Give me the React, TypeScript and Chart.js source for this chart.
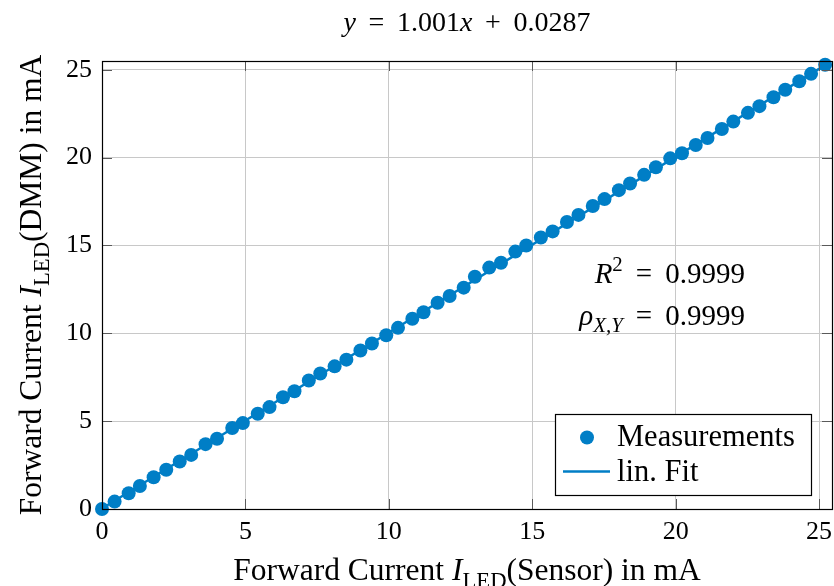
import React, { useEffect, useRef } from "react";
import { Chart, registerables } from "chart.js";

Chart.register(...registerables);

// Measured data: Forward current (Sensor) vs Forward current (DMM), mA
const sensorCurrent = [
  0.0, 0.44, 0.93, 1.32, 1.8, 2.24, 2.71, 3.11, 3.61, 4.01, 4.54, 4.91, 5.43, 5.84,
  6.31, 6.71, 7.21, 7.61, 8.11, 8.52, 9.01, 9.41, 9.91, 10.32, 10.82, 11.21, 11.7,
  12.12, 12.61, 13.0, 13.5, 13.91, 14.41, 14.79, 15.3, 15.71, 16.21, 16.61, 17.11,
  17.52, 18.02, 18.41, 18.9, 19.31, 19.81, 20.22, 20.7, 21.11, 21.61, 22.01, 22.52,
  22.92, 23.41, 23.82, 24.31, 24.72, 25.21,
];
const dmmCurrent = [
  0.0, 0.42, 0.9, 1.31, 1.81, 2.23, 2.7, 3.08, 3.69, 4.0, 4.61, 4.89, 5.42, 5.8,
  6.36, 6.7, 7.31, 7.71, 8.12, 8.5, 9.02, 9.42, 9.89, 10.31, 10.83, 11.2, 11.74,
  12.12, 12.6, 13.22, 13.74, 14.02, 14.65, 15.0, 15.45, 15.8, 16.34, 16.74, 17.25,
  17.64, 18.15, 18.53, 19.02, 19.45, 19.96, 20.25, 20.72, 21.12, 21.63, 22.05, 22.55,
  22.93, 23.44, 23.86, 24.35, 24.77, 25.29,
];
// Linear fit endpoints (y = 1.001x + 0.0287)
const fitX = [0, 25.21];
const fitY = [0.0287, 25.264];

const xTicks = [0, 5, 10, 15, 20, 25];
const yTicks = [0, 5, 10, 15, 20, 25];
const xMin = 0;
const xMax = 25.45;
const yMin = 0;
const yMax = 25.5;

const titleParts = [
  { t: "y", it: true },
  { t: "\u2009 = \u20091.001" },
  { t: "x", it: true },
  { t: "\u2009 + \u20090.0287" },
];
const xLabelParts = [
  { t: "Forward Current " },
  { t: "I", it: true },
  { t: "LED", sub: true },
  { t: "(Sensor) in mA" },
];
const yLabelParts = [
  { t: "Forward Current " },
  { t: "I", it: true },
  { t: "LED", sub: true },
  { t: "(DMM) in mA" },
];
const r2Parts = [{ t: "R", it: true }, { t: "2", sup: true }, { t: "\u2009 = \u20090.9999" }];
const rhoParts = [{ t: "ρ", it: true }, { t: "X,Y", it: true, sub: true }, { t: "\u2009 = \u20090.9999" }];
const legendLabels = ["Measurements", "lin. Fit"];

const BLUE = "rgb(0,126,198)";
const FONT = '"Liberation Serif", "Times New Roman", serif';

type Part = { t: string; it?: boolean; sub?: boolean; sup?: boolean };

function partFont(p: Part, size: number) {
  const s = p.sub || p.sup ? size * 0.72 : size;
  return `${p.it ? "italic " : ""}${s}px ${FONT}`;
}

function drawRich(
  ctx: CanvasRenderingContext2D,
  parts: Part[],
  x: number,
  y: number,
  size: number,
  align: "left" | "center" | "right"
) {
  let w = 0;
  for (const p of parts) {
    ctx.font = partFont(p, size);
    w += ctx.measureText(p.t).width;
  }
  let cx = align === "center" ? x - w / 2 : align === "right" ? x - w : x;
  ctx.textAlign = "left";
  ctx.textBaseline = "alphabetic";
  ctx.fillStyle = "#000";
  for (const p of parts) {
    ctx.font = partFont(p, size);
    const dy = p.sub ? size * 0.25 : p.sup ? -size * 0.4 : 0;
    ctx.fillText(p.t, cx, y + dy);
    cx += ctx.measureText(p.t).width;
  }
}

const overlayPlugin = {
  id: "overlay",
  afterDraw(chart: any) {
    const ctx: CanvasRenderingContext2D = chart.ctx;
    const { left, right, top, bottom } = chart.chartArea;
    const xs = chart.scales.x;
    const ys = chart.scales.y;
    ctx.save();

    // inward tick marks on all four sides
    ctx.strokeStyle = "rgb(90,90,90)";
    ctx.lineWidth = 1;
    const tl = 10;
    ctx.beginPath();
    for (const v of xTicks) {
      const px = Math.round(xs.getPixelForValue(v)) + 0.5;
      ctx.moveTo(px, bottom);
      ctx.lineTo(px, bottom - tl);
      ctx.moveTo(px, top);
      ctx.lineTo(px, top + tl);
    }
    for (const v of yTicks) {
      const py = Math.round(ys.getPixelForValue(v)) + 0.5;
      ctx.moveTo(left, py);
      ctx.lineTo(left + tl, py);
      ctx.moveTo(right, py);
      ctx.lineTo(right - tl, py);
    }
    ctx.stroke();

    // frame
    ctx.strokeStyle = "#000";
    ctx.lineWidth = 1.2;
    ctx.strokeRect(
      Math.round(left) + 0.5,
      Math.round(top) + 0.5,
      Math.round(right) - Math.round(left),
      Math.round(bottom) - Math.round(top)
    );

    // x tick labels
    ctx.fillStyle = "#000";
    ctx.font = `26px ${FONT}`;
    ctx.textAlign = "center";
    ctx.textBaseline = "alphabetic";
    for (const v of xTicks) {
      ctx.fillText(String(v), xs.getPixelForValue(v), 538.5);
    }

    const cxPlot = (left + right) / 2;
    // title
    drawRich(ctx, titleParts, cxPlot, 31, 28, "center");
    // x label
    drawRich(ctx, xLabelParts, cxPlot, 580, 31.5, "center");
    // y label
    ctx.save();
    ctx.translate(41, (top + bottom) / 2);
    ctx.rotate(-Math.PI / 2);
    drawRich(ctx, yLabelParts, 0, 0, 31.5, "center");
    ctx.restore();

    // annotations
    drawRich(ctx, r2Parts, 745, 283, 29, "right");
    drawRich(ctx, rhoParts, 745, 325, 29, "right");

    // legend
    const lx = 555, ly = 414, lw = 256, lh = 81;
    ctx.fillStyle = "#fff";
    ctx.fillRect(lx, ly, lw, lh);
    ctx.strokeStyle = "#000";
    ctx.lineWidth = 1.2;
    ctx.strokeRect(lx + 0.5, ly + 0.5, lw, lh);
    ctx.fillStyle = BLUE;
    ctx.beginPath();
    ctx.arc(587, 437.5, 7, 0, Math.PI * 2);
    ctx.fill();
    ctx.strokeStyle = BLUE;
    ctx.lineWidth = 2.5;
    ctx.beginPath();
    ctx.moveTo(563, 471.5);
    ctx.lineTo(610, 471.5);
    ctx.stroke();
    drawRich(ctx, [{ t: legendLabels[0] }], 617, 446, 30.5, "left");
    drawRich(ctx, [{ t: legendLabels[1] }], 617, 481, 30.5, "left");

    ctx.restore();
  },
};

export default function App() {
  const ref = useRef<HTMLCanvasElement | null>(null);
  useEffect(() => {
    if (!ref.current) return;
    const pts = sensorCurrent.map((x, i) => ({ x, y: dmmCurrent[i] }));
    const fit = fitX.map((x, i) => ({ x, y: fitY[i] }));
    const chart = new Chart(ref.current, {
      type: "scatter",
      data: {
        datasets: [
          {
            label: legendLabels[0],
            data: pts,
            backgroundColor: BLUE,
            borderWidth: 0,
            pointRadius: 7,
            clip: false,
            order: 0,
          } as any,
          {
            type: "line",
            label: legendLabels[1],
            data: fit,
            borderColor: BLUE,
            borderWidth: 2.5,
            pointRadius: 0,
            showLine: true,
            fill: false,
            clip: false,
            order: 1,
          } as any,
        ],
      },
      options: {
        animation: false,
        responsive: false,
        devicePixelRatio: 1,
        layout: { autoPadding: false, padding: { left: 0, right: 2, top: 61, bottom: 0 } },
        plugins: {
          legend: { display: false },
          tooltip: { enabled: false },
          title: { display: false },
        },
        scales: {
          x: {
            type: "linear",
            min: xMin,
            max: xMax,
            afterBuildTicks: (s: any) => {
              s.ticks = xTicks.map((v) => ({ value: v }));
            },
            afterFit: (s: any) => {
              s.height = 77;
            },
            grid: { color: "rgb(200,200,200)", lineWidth: 1, drawTicks: false },
            border: { display: false },
            ticks: { display: false },
          },
          y: {
            type: "linear",
            min: yMin,
            max: yMax,
            afterBuildTicks: (s: any) => {
              s.ticks = yTicks.map((v) => ({ value: v }));
            },
            afterFit: (s: any) => {
              s.width = 102;
            },
            grid: { color: "rgb(200,200,200)", lineWidth: 1, drawTicks: false },
            border: { display: false },
            ticks: {
              color: "#000",
              font: { family: FONT, size: 26 },
              padding: 10,
              autoSkip: false,
            },
          },
        },
      },
      plugins: [overlayPlugin],
    });
    return () => chart.destroy();
  }, []);
  return (
    <div style={{ position: "absolute", left: 0, top: 0, width: 834, height: 586, background: "#fff" }}>
      <canvas ref={ref} width={834} height={586} style={{ width: 834, height: 586, display: "block" }} />
    </div>
  );
}
